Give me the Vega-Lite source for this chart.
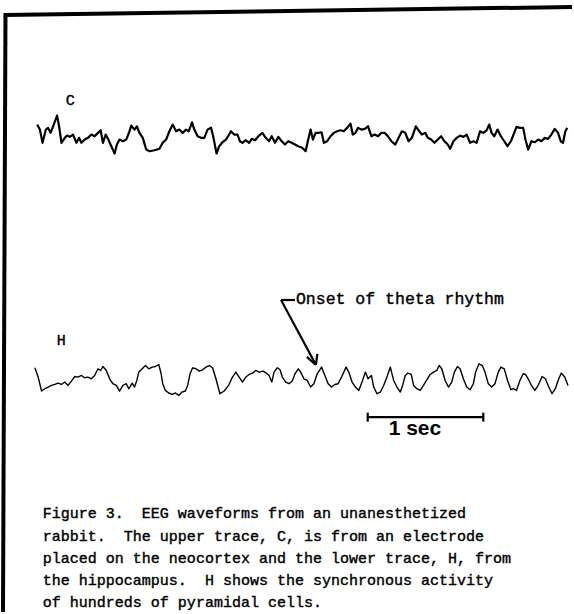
{
  "$schema": "https://vega.github.io/schema/vega-lite/v6.json",
  "width": 574,
  "height": 614,
  "padding": 0,
  "autosize": {"type": "fit", "contains": "padding"},
  "background": "white",
  "config": {"view": {"stroke": null}},
  "datasets": {
    "traceC": [
      {"t":37.3,"v":125},{"t":40,"v":130},{"t":42.7,"v":143.3},{"t":46,"v":130},{"t":48.3,"v":128.3},{"t":50.7,"v":133.3},{"t":53.3,"v":126.7},{"t":57.3,"v":116},{"t":59.3,"v":126.7},{"t":61.7,"v":143.3},{"t":65,"v":138.3},{"t":67.3,"v":136},{"t":70,"v":137.3},{"t":73.3,"v":135},{"t":76.7,"v":143.3},{"t":79.3,"v":138.3},{"t":81.7,"v":143.3},{"t":85,"v":140},{"t":88.3,"v":138.3},{"t":91.7,"v":135},{"t":95,"v":136.7},{"t":98.3,"v":133.3},{"t":101,"v":130.7},{"t":103.3,"v":143.3},{"t":106,"v":135},{"t":108.7,"v":140},{"t":111.7,"v":146.7},{"t":115,"v":154},{"t":117.3,"v":145},{"t":120,"v":140},{"t":123.3,"v":141.7},{"t":126.7,"v":140},{"t":130,"v":131.7},{"t":131.7,"v":126},{"t":135,"v":130},{"t":137.3,"v":126.7},{"t":140,"v":133.3},{"t":143.3,"v":138.3},{"t":146.7,"v":150},{"t":150,"v":151.7},{"t":155,"v":150.7},{"t":160,"v":149.3},{"t":163.3,"v":143.3},{"t":166.7,"v":140},{"t":170,"v":131.7},{"t":173.3,"v":125},{"t":176.7,"v":131.7},{"t":180,"v":130},{"t":183.3,"v":133.3},{"t":186.7,"v":130},{"t":189.3,"v":131.7},{"t":192.7,"v":122.7},{"t":195,"v":130},{"t":198.3,"v":136.7},{"t":201.7,"v":138.3},{"t":205,"v":138.3},{"t":208.3,"v":130},{"t":211.7,"v":128},{"t":214,"v":137},{"t":217.3,"v":154},{"t":220,"v":146.7},{"t":223.3,"v":142.7},{"t":226.7,"v":140},{"t":229.3,"v":136},{"t":231.7,"v":131.7},{"t":235,"v":135},{"t":238.3,"v":135},{"t":240.7,"v":141.7},{"t":243.3,"v":143.3},{"t":246.7,"v":140.7},{"t":250,"v":143.3},{"t":252.7,"v":139.3},{"t":256,"v":140.7},{"t":259.3,"v":136.7},{"t":263.3,"v":133.3},{"t":266.7,"v":138.3},{"t":270,"v":141.7},{"t":272.7,"v":136.7},{"t":276,"v":143.3},{"t":279.3,"v":137.3},{"t":282.7,"v":141.7},{"t":286,"v":145},{"t":289.3,"v":141.7},{"t":292.7,"v":143.3},{"t":296,"v":145},{"t":299.3,"v":146.7},{"t":303.3,"v":148.3},{"t":306.7,"v":151.7},{"t":309.3,"v":140},{"t":311.7,"v":130},{"t":314,"v":140},{"t":316.7,"v":133.3},{"t":319.3,"v":133.3},{"t":322.7,"v":132.7},{"t":325,"v":143.3},{"t":328.3,"v":141.7},{"t":331.7,"v":136.7},{"t":335,"v":133.3},{"t":338.3,"v":131.7},{"t":341.7,"v":130.7},{"t":345,"v":131.7},{"t":348.3,"v":128.3},{"t":351.7,"v":124},{"t":354,"v":135},{"t":356.7,"v":133.3},{"t":359.3,"v":128.3},{"t":362.7,"v":130},{"t":366,"v":129.3},{"t":369.3,"v":126.7},{"t":372.7,"v":136.7},{"t":376,"v":135},{"t":379.3,"v":136.7},{"t":382.7,"v":133.3},{"t":386,"v":133.3},{"t":389.3,"v":136.7},{"t":392.7,"v":141.7},{"t":396.7,"v":145},{"t":400,"v":138.3},{"t":403.3,"v":131.7},{"t":406.7,"v":133.3},{"t":410,"v":141.7},{"t":413.3,"v":138.3},{"t":417.3,"v":126.7},{"t":420.7,"v":131.7},{"t":423.3,"v":135},{"t":426.7,"v":133.3},{"t":429.3,"v":138.3},{"t":432.7,"v":140},{"t":436,"v":143.3},{"t":439.3,"v":140},{"t":442.7,"v":136.7},{"t":446,"v":141.7},{"t":449.3,"v":145},{"t":451.7,"v":149.3},{"t":455,"v":141.7},{"t":458.3,"v":138.3},{"t":461.7,"v":136},{"t":465,"v":137.3},{"t":468.3,"v":135},{"t":471.7,"v":143.3},{"t":475,"v":141.7},{"t":478.3,"v":143.3},{"t":481.7,"v":131.7},{"t":485,"v":133.3},{"t":488.3,"v":130.7},{"t":491,"v":125},{"t":493.3,"v":133.3},{"t":496,"v":136.7},{"t":499.3,"v":130},{"t":502.7,"v":136.7},{"t":506,"v":141.7},{"t":509.3,"v":146.7},{"t":512.7,"v":141.7},{"t":516,"v":133.3},{"t":518.3,"v":127.3},{"t":521.7,"v":128.3},{"t":525,"v":128.3},{"t":527.3,"v":140},{"t":530,"v":150},{"t":533.3,"v":141.7},{"t":536.7,"v":142.7},{"t":540,"v":140},{"t":543.3,"v":141.7},{"t":546.7,"v":138.3},{"t":550,"v":139.3},{"t":553.3,"v":135},{"t":556.7,"v":129.3},{"t":560,"v":133.3},{"t":562.7,"v":141.7},{"t":565,"v":143.3},{"t":567.3,"v":131.7},{"t":569.3,"v":128.3}
    ],
    "traceH": [
      {"t":35,"v":369},{"t":38.3,"v":378.3},{"t":41.7,"v":392.3},{"t":45,"v":390},{"t":48.3,"v":388.3},{"t":51.7,"v":386.7},{"t":55,"v":385.7},{"t":58.3,"v":384.3},{"t":61.7,"v":385.7},{"t":65,"v":383.3},{"t":68.3,"v":386.7},{"t":71.7,"v":382.3},{"t":75,"v":377.7},{"t":78.3,"v":378.3},{"t":81.7,"v":376.7},{"t":85,"v":379},{"t":88.3,"v":378.3},{"t":91.7,"v":380},{"t":95,"v":376.7},{"t":98.3,"v":370},{"t":101,"v":371.7},{"t":103.3,"v":367.7},{"t":106.7,"v":371.7},{"t":110,"v":380},{"t":113.3,"v":385},{"t":116.7,"v":386.7},{"t":120,"v":392.3},{"t":123.3,"v":386.7},{"t":126.7,"v":385},{"t":129.3,"v":390},{"t":132.7,"v":384.3},{"t":135,"v":388.3},{"t":137.3,"v":381.7},{"t":139.3,"v":373.3},{"t":142.7,"v":370},{"t":146,"v":366.7},{"t":149.3,"v":370},{"t":152.7,"v":368.3},{"t":156,"v":367.7},{"t":159.3,"v":365.7},{"t":161.7,"v":375},{"t":163.3,"v":385},{"t":166,"v":391.7},{"t":169.3,"v":394.3},{"t":172.7,"v":395.7},{"t":176,"v":394.3},{"t":179.3,"v":396.7},{"t":182.7,"v":393.3},{"t":186,"v":392.3},{"t":188.3,"v":386.7},{"t":190.7,"v":375},{"t":193.3,"v":369},{"t":196.7,"v":370},{"t":200,"v":372.3},{"t":203.3,"v":371},{"t":206.7,"v":368.3},{"t":210,"v":366.7},{"t":213.3,"v":369},{"t":216.7,"v":380},{"t":220.7,"v":395},{"t":225,"v":392.3},{"t":229.3,"v":386.7},{"t":233.3,"v":378.3},{"t":236.7,"v":373.3},{"t":240,"v":378.3},{"t":243.3,"v":383.3},{"t":246.7,"v":378.3},{"t":250,"v":375.7},{"t":253.3,"v":374.3},{"t":256.7,"v":371.7},{"t":260,"v":373.3},{"t":264,"v":372.3},{"t":267.3,"v":374.3},{"t":270,"v":376.7},{"t":272.7,"v":383.3},{"t":275,"v":373.3},{"t":278.3,"v":369},{"t":281,"v":371},{"t":283.3,"v":378.3},{"t":286.7,"v":383.3},{"t":290,"v":385},{"t":293.3,"v":382.3},{"t":296,"v":375},{"t":299.3,"v":370},{"t":301.7,"v":373.3},{"t":305,"v":380},{"t":308.3,"v":381.7},{"t":311.7,"v":388.3},{"t":315,"v":385},{"t":318.3,"v":375},{"t":322.7,"v":368.3},{"t":326,"v":376.7},{"t":329.3,"v":385},{"t":332.7,"v":388.3},{"t":336,"v":385.7},{"t":339.3,"v":385},{"t":342.7,"v":378.3},{"t":345,"v":373.3},{"t":347.3,"v":368.3},{"t":350,"v":373.3},{"t":353.3,"v":383.3},{"t":356.7,"v":388.3},{"t":360,"v":391.7},{"t":363.3,"v":383.3},{"t":366.7,"v":373.3},{"t":369.3,"v":380},{"t":372.7,"v":376.7},{"t":375,"v":388.3},{"t":378.3,"v":395},{"t":381.7,"v":393.3},{"t":385,"v":386.7},{"t":388.3,"v":378.3},{"t":391.7,"v":368.3},{"t":395,"v":381.7},{"t":398.3,"v":388.3},{"t":401.7,"v":393.3},{"t":404,"v":386.7},{"t":406.7,"v":376.7},{"t":409.3,"v":374.3},{"t":412.7,"v":375.7},{"t":415,"v":386.7},{"t":418.3,"v":390},{"t":421.7,"v":391.7},{"t":425,"v":386.7},{"t":428.3,"v":381},{"t":431.7,"v":375.7},{"t":435,"v":373.3},{"t":438.3,"v":371.7},{"t":440.7,"v":366.7},{"t":443.3,"v":370},{"t":446.7,"v":381.7},{"t":450,"v":388.3},{"t":453.3,"v":383.3},{"t":456,"v":373.3},{"t":459,"v":367.7},{"t":461.7,"v":370},{"t":465,"v":380},{"t":468.3,"v":388.3},{"t":471.7,"v":391},{"t":475,"v":385},{"t":477.3,"v":373.3},{"t":480.7,"v":365},{"t":484,"v":366.7},{"t":486.7,"v":373.3},{"t":490,"v":385},{"t":493.3,"v":388.3},{"t":496.7,"v":385},{"t":500,"v":373.3},{"t":502.7,"v":368.3},{"t":506,"v":370},{"t":509.3,"v":381.7},{"t":512.7,"v":391},{"t":515,"v":390},{"t":518.3,"v":391.7},{"t":521.7,"v":381.7},{"t":525,"v":375},{"t":527.3,"v":375.7},{"t":530,"v":380},{"t":533.3,"v":386.7},{"t":536.7,"v":391.7},{"t":540,"v":386.7},{"t":544,"v":377.7},{"t":547.3,"v":380},{"t":550.7,"v":388.3},{"t":554,"v":395},{"t":557.3,"v":390},{"t":560.7,"v":380},{"t":563.3,"v":374.3},{"t":566.7,"v":378.3},{"t":570,"v":386.7}
    ],
    "frame": [
      {"t":4,"v":15,"t2":574,"v2":7},
      {"t":5.5,"v":13,"t2":3,"v2":614}
    ],
    "marks": [
      {"t":282,"v":301,"t2":296,"v2":301},
      {"t":282,"v":301,"t2":317,"v2":366},
      {"t":317,"v":366,"t2":308,"v2":358},
      {"t":317,"v":366,"t2":318.5,"v2":355},
      {"t":369,"v":418.5,"t2":485,"v2":418.5},
      {"t":369,"v":414,"t2":369,"v2":423},
      {"t":485,"v":414,"t2":485,"v2":423}
    ],
    "traceLabels": [
      {"t":66,"v":105,"label":"C"},
      {"t":57,"v":346,"label":"H"}
    ],
    "caption": [
      {"t":43,"v":520,"label":"Figure 3.\u00a0 EEG waveforms from an unanesthetized"},
      {"t":43,"v":542.3,"label":"rabbit.\u00a0 The upper trace, C, is from an electrode"},
      {"t":43,"v":564.5,"label":"placed on the neocortex and the lower trace, H, from"},
      {"t":43,"v":586.8,"label":"the hippocampus.\u00a0 H shows the synchronous activity"},
      {"t":43,"v":609,"label":"of hundreds of pyramidal cells."}
    ],
    "onset": [
      {"t":297,"v":305,"label":"Onset of theta rhythm"}
    ],
    "scale": [
      {"t":390,"v":436,"label":"1 sec"}
    ]
  },
  "layer": [
    {
      "data": {"name": "frame"},
      "mark": {"type": "rule", "color": "#000", "strokeWidth": 4},
      "encoding": {
        "x": {"field": "t", "type": "quantitative", "scale": {"domain": [0, 574], "nice": false, "zero": false}, "axis": null},
        "y": {"field": "v", "type": "quantitative", "scale": {"domain": [0, 614], "reverse": true, "nice": false, "zero": false}, "axis": null},
        "x2": {"field": "t2"},
        "y2": {"field": "v2"}
      }
    },
    {
      "data": {"name": "traceC"},
      "mark": {"type": "line", "color": "#000", "strokeWidth": 2.2, "strokeJoin": "round"},
      "encoding": {
        "x": {"field": "t", "type": "quantitative", "axis": null},
        "y": {"field": "v", "type": "quantitative", "axis": null}
      }
    },
    {
      "data": {"name": "traceH"},
      "mark": {"type": "line", "color": "#000", "strokeWidth": 1.4, "strokeJoin": "round"},
      "encoding": {
        "x": {"field": "t", "type": "quantitative", "axis": null},
        "y": {"field": "v", "type": "quantitative", "axis": null}
      }
    },
    {
      "data": {"name": "marks"},
      "mark": {"type": "rule", "color": "#000", "strokeWidth": 2.2},
      "encoding": {
        "x": {"field": "t", "type": "quantitative", "axis": null},
        "y": {"field": "v", "type": "quantitative", "axis": null},
        "x2": {"field": "t2"},
        "y2": {"field": "v2"}
      }
    },
    {
      "data": {"name": "traceLabels"},
      "mark": {"type": "text", "font": "Liberation Mono", "fontSize": 15, "align": "left", "baseline": "alphabetic", "color": "#000", "stroke": "#000", "strokeWidth": 0.4},
      "encoding": {
        "x": {"field": "t", "type": "quantitative", "axis": null},
        "y": {"field": "v", "type": "quantitative", "axis": null},
        "text": {"field": "label"}
      }
    },
    {
      "data": {"name": "caption"},
      "mark": {"type": "text", "font": "Liberation Mono", "fontSize": 15, "align": "left", "baseline": "alphabetic", "color": "#000", "stroke": "#000", "strokeWidth": 0.4},
      "encoding": {
        "x": {"field": "t", "type": "quantitative", "axis": null},
        "y": {"field": "v", "type": "quantitative", "axis": null},
        "text": {"field": "label"}
      }
    },
    {
      "data": {"name": "onset"},
      "mark": {"type": "text", "font": "Liberation Mono", "fontSize": 16.5, "align": "left", "baseline": "alphabetic", "color": "#000", "stroke": "#000", "strokeWidth": 0.4},
      "encoding": {
        "x": {"field": "t", "type": "quantitative", "axis": null},
        "y": {"field": "v", "type": "quantitative", "axis": null},
        "text": {"field": "label"}
      }
    },
    {
      "data": {"name": "scale"},
      "mark": {"type": "text", "font": "Liberation Sans", "fontSize": 21, "fontWeight": "bold", "align": "left", "baseline": "alphabetic", "color": "#000"},
      "encoding": {
        "x": {"field": "t", "type": "quantitative", "axis": null},
        "y": {"field": "v", "type": "quantitative", "axis": null},
        "text": {"field": "label"}
      }
    }
  ]
}
